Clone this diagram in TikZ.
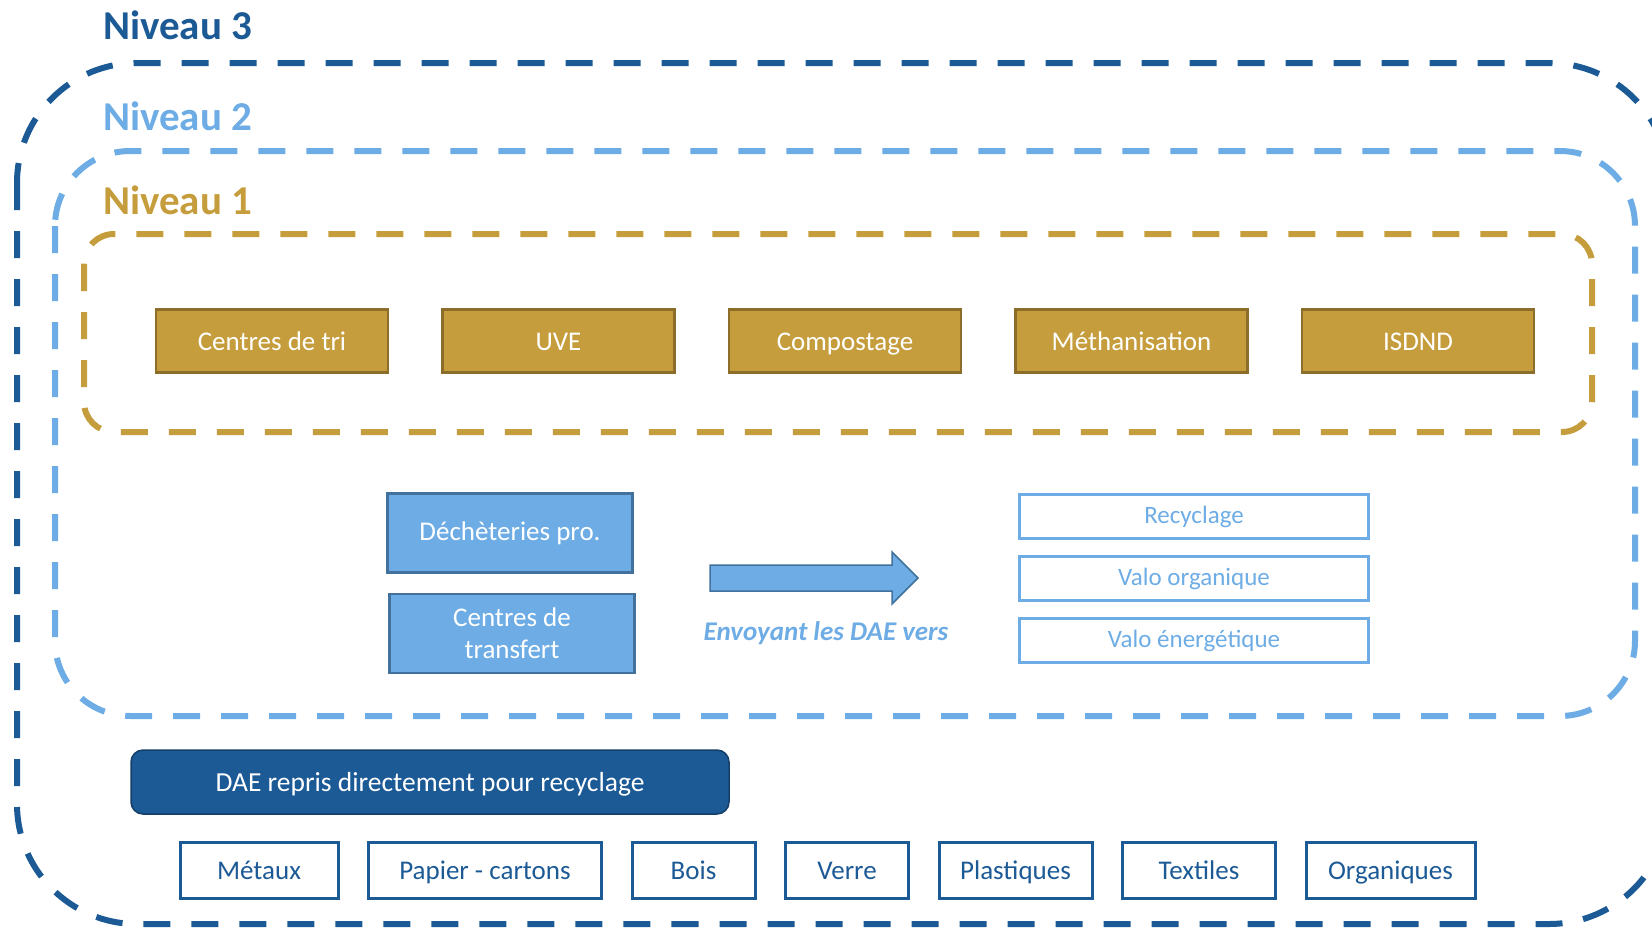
\documentclass[tikz,border=0pt]{standalone}
\usepackage{fontspec}
\setmainfont{Carlito}
\usetikzlibrary{positioning}

\definecolor{bleufonce}{HTML}{1C5A96}
\definecolor{bleuclair}{HTML}{6DACE4}
\definecolor{bleubord}{HTML}{41719C}
\definecolor{ocre}{HTML}{C59D3C}
\definecolor{ocrebord}{HTML}{8C6D2A}

\begin{document}
\begin{tikzpicture}[x=1pt, y=-1pt,
    cadre/.style={line width=6pt, dash pattern=on 27pt off 21pt},
    niveau/.style={anchor=west, inner sep=0pt, font=\fontsize{41}{49}\selectfont\bfseries},
    ligne/.style={text height=25pt, text depth=6pt},
    installation/.style={ligne, draw=ocrebord, line width=2.5pt, fill=ocre, text=white,
        minimum width=232pt, minimum height=63pt, inner sep=0pt, font=\fontsize{27}{32}\selectfont},
    dechet/.style={draw=bleubord, line width=2.5pt, fill=bleuclair, text=white, align=center,
        minimum width=245pt, minimum height=79pt, inner sep=0pt, font=\fontsize{27}{32}\selectfont},
    filiere/.style={text height=21pt, text depth=5.5pt, draw=bleuclair, line width=3pt, text=bleuclair,
        minimum width=349pt, minimum height=44pt, inner sep=0pt, font=\fontsize{25}{30}\selectfont},
    flux/.style={ligne, draw=bleufonce, line width=3pt, text=bleufonce,
        minimum height=56pt, inner sep=0pt, font=\fontsize{27}{32}\selectfont},
    node distance=27.5pt]

    \useasboundingbox (0,0) rectangle (1652,927);

    % les trois niveaux
    \draw[cadre, draw=bleufonce, rounded corners=120pt] (17,63) rectangle (1669,924);
    \draw[cadre, draw=bleuclair, rounded corners=75pt] (55,151) rectangle (1635,716);
    \draw[cadre, draw=ocre, rounded corners=30pt] (84,234) rectangle (1592,432);

    \node[niveau, text=bleufonce] (niv3) at (103,25) {Niveau 3};
    \node[niveau, text=bleuclair] (niv2) at (103,116) {Niveau 2};
    \node[niveau, text=ocre] (niv1) at (103,200) {Niveau 1};

    % niveau 1 : installations
    \node[installation] (tri) at (272,341) {Centres de tri};
    \node[installation, right=52pt of tri] (uve) {UVE};
    \node[installation, right=52pt of uve] (compost) {Compostage};
    \node[installation, right=52pt of compost] (metha) {Méthanisation};
    \node[installation, right=52pt of metha] (isdnd) {ISDND};

    % niveau 2
    \node[dechet] (decheterie) at (510,533) {Déchèteries pro.};
    \node[dechet, below=19pt of decheterie, xshift=2pt] (transfert) {Centres de\\transfert};

    \draw[draw=bleubord, line width=1.5pt, fill=bleuclair]
        (710,565) -- (892,565) -- (892,552) -- (918,578) -- (892,604) -- (892,591) -- (710,591) -- cycle;
    \node[text=bleuclair, font=\fontsize{27}{32}\selectfont\bfseries\itshape] (envoi) at (826,633) {Envoyant les DAE vers};

    \node[filiere] (recyclage) at (1194,516) {Recyclage};
    \node[filiere, below=15pt of recyclage] (valoorga) {Valo organique};
    \node[filiere, below=15pt of valoorga] (valoener) {Valo énergétique};

    % niveau 3
    \node[ligne, draw=bleufonce!70!black, line width=1.5pt, fill=bleufonce, text=white, rounded corners=12pt,
        minimum width=598pt, minimum height=64pt, font=\fontsize{27.5}{33}\selectfont] (repris) at (430,782)
        {DAE repris directement pour recyclage};

    \node[flux, minimum width=158pt] (metaux) at (259,870) {Métaux};
    \node[flux, minimum width=233pt, right=of metaux] (papier) {Papier - cartons};
    \node[flux, minimum width=123pt, right=of papier] (bois) {Bois};
    \node[flux, minimum width=123pt, right=of bois] (verre) {Verre};
    \node[flux, minimum width=153pt, right=of verre] (plastiques) {Plastiques};
    \node[flux, minimum width=153pt, right=of plastiques] (textiles) {Textiles};
    \node[flux, minimum width=169pt, right=of textiles] (organiques) {Organiques};
\end{tikzpicture}
\end{document}
